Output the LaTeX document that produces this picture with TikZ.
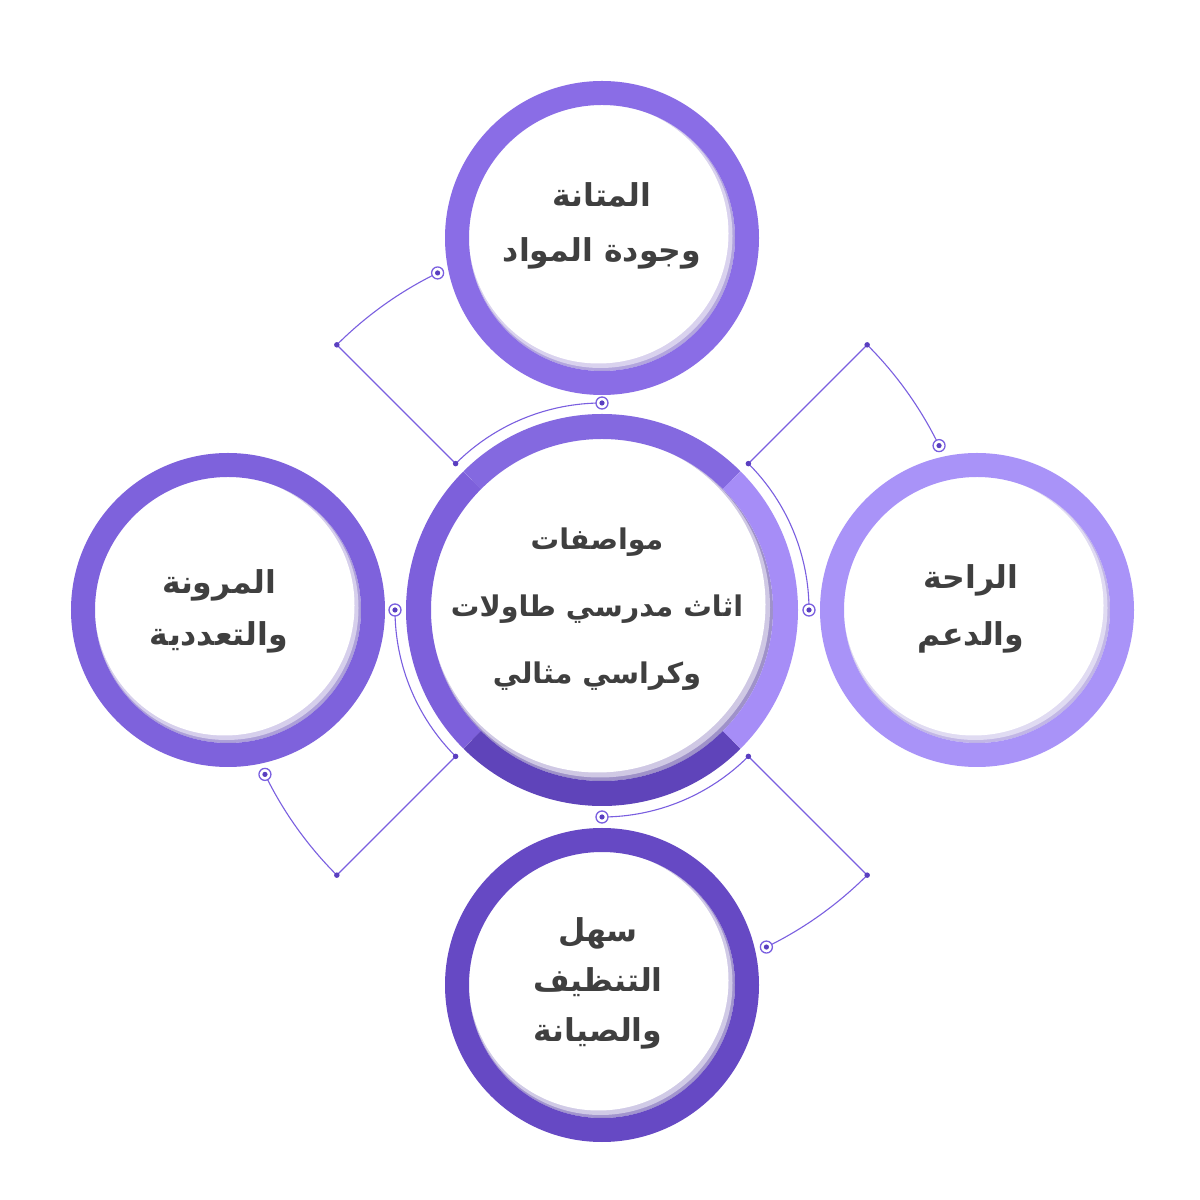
\documentclass[tikz,border=0pt]{standalone}
\usepackage{fontspec}
\TeXXeTstate=1
\newfontfamily\arfont[Script=Arabic]{DejaVu Sans}
\newcommand\rl[1]{\beginR #1\endR}
\definecolor{txt}{HTML}{3F3F3F}
\definecolor{ln}{HTML}{7A5FE0}
\definecolor{dotc}{HTML}{5A3FC0}
\definecolor{ctop}{HTML}{8469E0}
\definecolor{cright}{HTML}{A68DF7}
\definecolor{cbot}{HTML}{5F44BA}
\definecolor{cleft}{HTML}{7D60DB}
\definecolor{rtop}{HTML}{8A6DE6}
\definecolor{rleft}{HTML}{7E62DC}
\definecolor{rright}{HTML}{A993F8}
\definecolor{rbot}{HTML}{6649C4}
\tikzset{
  conn/.style={draw=ln, line width=1.1pt},
  ringdot/.style={circle, draw=ln, line width=1.3pt, fill=white, minimum size=12pt, inner sep=0pt,
    path picture={\fill[dotc] (path picture bounding box.center) circle (2.6pt);}},
  knot/.style={circle, fill=dotc, minimum size=5.5pt, inner sep=0pt},
  lbl/.style={text=txt, align=center},
}
\usetikzlibrary{calc}
\newcommand\bubble[2]{% center, color
  \fill[#2!85!black, opacity=0.55] (#1) circle (133pt);
  \fill[white, opacity=0.5] ($(#1)+(-1.5pt,2pt)$) circle (132pt);
  \fill[white] ($(#1)+(-3.5pt,4.5pt)$) circle (130pt);
  \fill[white] (#1) circle (122pt);
  \draw[#2, line width=24pt] (#1) circle (145pt);
}
\begin{document}
\begin{tikzpicture}[x=1pt,y=1pt]
\useasboundingbox (0,0) rectangle (1200,1200);
\fill[white] (0,0) rectangle (1200,1200);
\coordinate (C) at (602,590);
% satellite circles
\bubble{602,962}{rtop}
\bubble{228,590}{rleft}
\bubble{977,590}{rright}
\bubble{602,215}{rbot}
% center circle
\fill[cbot!85!black, opacity=0.55] (C) circle (171pt);
\fill[white, opacity=0.5] ($(C)+(-2pt,2.5pt)$) circle (170pt);
\fill[white] ($(C)+(-4.5pt,5.5pt)$) circle (168pt);
\fill[white] (C) circle (158pt);
\draw[ctop, line width=25pt] ($(C)+(45:183.5)$) arc[start angle=45, end angle=135, radius=183.5];
\draw[cleft, line width=25pt] ($(C)+(135:183.5)$) arc[start angle=135, end angle=225, radius=183.5];
\draw[cbot, line width=25pt] ($(C)+(225:183.5)$) arc[start angle=225, end angle=315, radius=183.5];
\draw[cright, line width=25pt] ($(C)+(-45:183.5)$) arc[start angle=-45, end angle=45, radius=183.5];
% connector points
\coordinate (tlA) at ($(C)+(116:375)$);
\coordinate (tlB) at ($(C)+(135:375)$);
\coordinate (tlC) at ($(C)+(135:207)$);
\coordinate (tlD) at ($(C)+(90:207)$);
\coordinate (trA) at ($(C)+(26:375)$);
\coordinate (trB) at ($(C)+(45:375)$);
\coordinate (trC) at ($(C)+(45:207)$);
\coordinate (trD) at ($(C)+(0:207)$);
\coordinate (brA) at ($(C)+(-64:375)$);
\coordinate (brB) at ($(C)+(-45:375)$);
\coordinate (brC) at ($(C)+(-45:207)$);
\coordinate (brD) at ($(C)+(-90:207)$);
\coordinate (blA) at ($(C)+(-154:375)$);
\coordinate (blB) at ($(C)+(-135:375)$);
\coordinate (blC) at ($(C)+(-135:207)$);
\coordinate (blD) at ($(C)+(180:207)$);
\draw[conn] (tlA) arc[start angle=116, end angle=135, radius=375] -- (tlC) arc[start angle=135, end angle=90, radius=207];
\draw[conn] (trA) arc[start angle=26, end angle=45, radius=375] -- (trC) arc[start angle=45, end angle=0, radius=207];
\draw[conn] (brA) arc[start angle=-64, end angle=-45, radius=375] -- (brC) arc[start angle=-45, end angle=-90, radius=207];
\draw[conn] (blA) arc[start angle=-154, end angle=-135, radius=375] -- (blC) arc[start angle=-135, end angle=-180, radius=207];
\foreach \p in {tl,tr,br,bl}{
  \node[ringdot] (\p a) at (\p A) {};
  \node[ringdot] (\p d) at (\p D) {};
  \node[knot] (\p b) at (\p B) {};
  \node[knot] (\p c) at (\p C) {};
}
% labels
\node[lbl, font=\arfont\bfseries\fontsize{28.5}{67}\selectfont] (center) at (597,591)
  {\rl{مواصفات}\\\rl{اثاث مدرسي طاولات}\\\rl{وكراسي مثالي}};
\node[lbl, font=\arfont\bfseries\fontsize{31.5}{55}\selectfont] (top) at (602,974)
  {\rl{المتانة}\\\rl{وجودة المواد}};
\node[lbl, font=\arfont\bfseries\fontsize{31.5}{52}\selectfont] (left) at (219,589)
  {\rl{المرونة}\\\rl{والتعددية}};
\node[lbl, font=\arfont\bfseries\fontsize{31.5}{57}\selectfont] (right) at (971,591)
  {\rl{الراحة}\\\rl{والدعم}};
\node[lbl, font=\arfont\bfseries\fontsize{31.5}{50}\selectfont] (bottom) at (598,217)
  {\rl{سهل}\\\rl{التنظيف}\\\rl{والصيانة}};
\end{tikzpicture}
\end{document}
